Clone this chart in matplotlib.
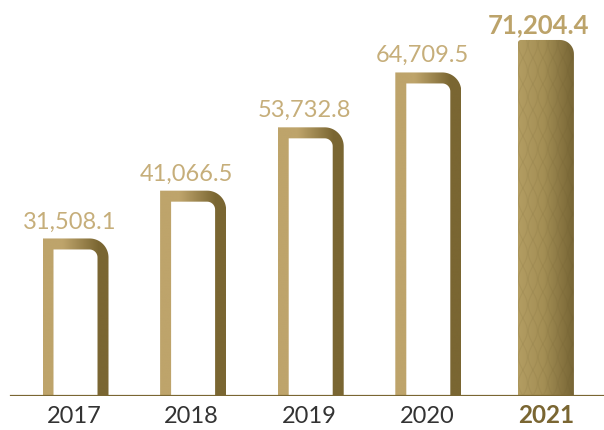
import numpy as np
import matplotlib
matplotlib.use('Agg')
import matplotlib.pyplot as plt
from matplotlib.path import Path
from matplotlib.patches import PathPatch
from matplotlib.colors import LinearSegmentedColormap

years = ['2017', '2018', '2019', '2020', '2021']
values = [31508.1, 41066.5, 53732.8, 64709.5, 71204.4]
labels = ['31,508.1', '41,066.5', '53,732.8', '64,709.5', '71,204.4']

LIGHT = '#bea46b'
DARK = '#7a6632'
W, H = 604, 431
fig = plt.figure(figsize=(W / 100, H / 100), dpi=100)
ax = fig.add_axes([0, 34 / H, 1, 397 / H])
XL = (-0.642, 4.494)
YL = (0, 79400)
ax.set_xlim(*XL)
ax.set_ylim(*YL)
ax.axis('off')

px_x = W / (XL[1] - XL[0])
px_y = 397 / (YL[1] - YL[0])

cmap_outline = LinearSegmentedColormap.from_list(
    'o', [(0, LIGHT), (0.3, LIGHT), (0.85, DARK), (1, DARK)])
cmap_solid = LinearSegmentedColormap.from_list(
    's', [(0, '#b39d62'), (0.45, '#a48f55'), (1, '#776535')])


def arc(cx, cy, r, a0, a1, n=24):
    t = np.linspace(a0, a1, n)
    return list(zip(cx + (r / px_x) * np.cos(t), cy + (r / px_y) * np.sin(t)))


def outline_path(xc, h, width, thick, r_out, r_in):
    x0, x1 = xc - width / 2, xc + width / 2
    tx, ty = thick / px_x, thick / px_y
    pts = [(x0, 0), (x0, h)]
    pts += arc(x1 - r_out / px_x, h - r_out / px_y, r_out, np.pi / 2, 0)
    pts += [(x1, 0), (x1 - tx, 0)]
    pts += arc(x1 - tx - r_in / px_x, h - ty - r_in / px_y, r_in, 0, np.pi / 2)
    pts += [(x0 + tx, h - ty), (x0 + tx, 0), (x0, 0)]
    codes = [Path.MOVETO] + [Path.LINETO] * (len(pts) - 2) + [Path.CLOSEPOLY]
    return Path(pts, codes)


def solid_path(xc, h, width, r, r_small=3):
    x0, x1 = xc - width / 2, xc + width / 2
    pts = [(x0, 0), (x1, 0)]
    pts += arc(x1 - r / px_x, h - r / px_y, r, 0, np.pi / 2)
    pts += arc(x0 + r_small / px_x, h - r_small / px_y, r_small, np.pi / 2, np.pi, 8)
    pts += [(x0, 0)]
    codes = [Path.MOVETO] + [Path.LINETO] * (len(pts) - 2) + [Path.CLOSEPOLY]
    return Path(pts, codes)


grad = np.linspace(0, 1, 256).reshape(1, -1)
bw = 66 / px_x
bw_last = 56 / px_x
for i, v in enumerate(values):
    last = i == len(values) - 1
    if not last:
        path = outline_path(i, v, bw, 11, 19, 8)
        w = bw
        cm = cmap_outline
    else:
        path = solid_path(i, v, bw_last, 14)
        w = bw_last
        cm = cmap_solid
    patch = PathPatch(path, facecolor='none', edgecolor='none')
    ax.add_patch(patch)
    im = ax.imshow(grad, cmap=cm, aspect='auto',
                   extent=(i - w / 2, i + w / 2, 0, v), zorder=2,
                   interpolation='bilinear')
    im.set_clip_path(patch)
    if last:
        # subtle ogee lattice pattern
        x0 = i - w / 2
        cell_w = 10 / px_x
        cell_h = 26 / px_y
        for k in range(7):
            xs = x0 + (k + 0.5) * cell_w
            for sgn in (-1, 1):
                yy = np.linspace(0, v, 400)
                xx = xs + sgn * 0.45 * cell_w * np.abs(np.sin(np.pi * yy / cell_h))
                ln, = ax.plot(xx, yy, color='#5e4f25', lw=0.8, alpha=0.09, zorder=3)
                ln.set_clip_path(patch)
    ax.set_xlim(*XL)
    ax.set_ylim(*YL)

    if last:
        ax.annotate(labels[i], (i, v), xytext=(-5.5, 6), textcoords='offset points',
                    ha='center', va='baseline', fontsize=18.5, fontweight='bold',
                    color='#bca36a', family='Lato')
        ax.annotate(years[i], (i, 0), xytext=(0, -18.5), textcoords='offset points',
                    ha='center', va='baseline', fontsize=17.5, fontweight='bold',
                    color='#7a6632', family='Lato')
    else:
        ax.annotate(labels[i], (i, v), xytext=(-4.5, 8), textcoords='offset points',
                    ha='center', va='baseline', fontsize=17, fontweight='normal',
                    color='#c6ae7a', family='Lato')
        ax.annotate(years[i], (i, 0), xytext=(-1, -18.5), textcoords='offset points',
                    ha='center', va='baseline', fontsize=17, fontweight='normal',
                    color='#333333', family='Lato')

ax.axhline(0, xmin=11 / W, xmax=1, color=DARK, lw=1.6, zorder=5)

fig.savefig('out.png', dpi=100)
